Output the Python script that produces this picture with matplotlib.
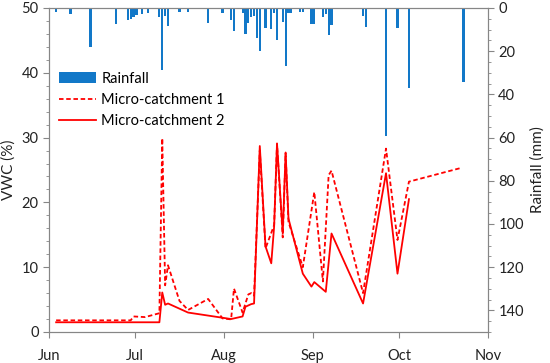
import matplotlib
matplotlib.use("Agg")
import matplotlib.pyplot as plt
import matplotlib.dates as mdates
from matplotlib.ticker import MultipleLocator
import pandas as pd

plt.rcParams['font.family'] = ['Lato', 'DejaVu Sans']
plt.rcParams['font.size'] = 10.5

# daily rainfall (mm)
rain_dates = ['06-03', '06-08', '06-15', '06-24', '06-28', '06-29', '06-30', '07-01',
              '07-03', '07-05', '07-09', '07-10', '07-11', '07-12', '07-16', '07-19',
              '07-26', '07-31', '08-03', '08-04', '08-07', '08-08', '08-09', '08-10',
              '08-11', '08-12', '08-13', '08-15', '08-17', '08-18', '08-19', '08-21',
              '08-22', '08-23', '08-24', '08-27', '08-28', '08-31', '09-01', '09-04',
              '09-05', '09-06', '09-07', '09-18', '09-19', '09-26', '09-30', '10-04',
              '10-23']
rain_mm = [1.7, 3.0, 18.0, 7.5, 5.5, 5.0, 4.4, 3.2,
           2.8, 2.5, 4.0, 28.7, 3.7, 8.3, 1.7, 2.0,
           6.8, 2.1, 5.5, 10.5, 2.1, 12.0, 6.8, 4.3,
           3.5, 14.0, 19.7, 9.4, 9.9, 2.1, 14.8, 6.3,
           26.9, 2.1, 2.1, 1.7, 1.7, 7.4, 7.4, 4.3,
           2.8, 12.5, 7.9, 3.7, 9.0, 59.3, 9.4, 36.9,
           34.3]

# VWC micro-catchment 1 (dashed)
mc1_dates = ['06-03', '06-29', '06-30', '07-04', '07-09', '07-10', '07-11', '07-12',
             '07-16', '07-19', '07-26', '07-31', '08-03', '08-04', '08-07', '08-09',
             '08-10', '08-11', '08-13', '08-15', '08-18', '08-19', '08-21', '08-22',
             '08-23', '08-28', '09-01', '09-04', '09-06', '09-07', '09-18', '09-26',
             '09-30', '10-04', '10-22']
mc1_vwc = [1.8, 1.8, 2.4, 2.3, 2.9, 29.9, 7.2, 10.3,
           4.8, 3.4, 5.1, 2.1, 1.95, 6.7, 3.0, 5.8,
           6.0, 5.6, 28.0, 12.9, 16.5, 29.0, 14.6, 27.6,
           17.0, 10.0, 21.6, 7.8, 24.2, 24.9, 6.0, 28.3,
           14.2, 23.2, 25.3]

# VWC micro-catchment 2 (solid)
mc2_dates = ['06-03', '07-09', '07-10', '07-11', '07-12', '07-19', '08-03', '08-07',
             '08-08', '08-10', '08-11', '08-13', '08-15', '08-17', '08-18', '08-19',
             '08-21', '08-22', '08-23', '08-28', '08-31', '09-01', '09-05', '09-07',
             '09-18', '09-26', '09-30', '10-04']
mc2_vwc = [1.5, 1.5, 6.1, 4.2, 4.4, 3.0, 2.0, 2.4,
           3.9, 4.3, 4.4, 28.7, 13.2, 10.6, 16.3, 29.1,
           15.2, 27.7, 17.5, 9.0, 7.0, 7.7, 6.2, 15.2,
           4.4, 24.5, 9.0, 20.5]


def to_time(days):
    # daily values drawn at midday
    return pd.to_datetime(['2016-' + d for d in days]) + pd.Timedelta(hours=12)


fig = plt.figure(figsize=(5.5, 3.63), dpi=100)
ax = fig.add_axes([0.089, 0.0854, 0.798, 0.8926])
ax2 = ax.twinx()
ax.set_zorder(2)
ax.patch.set_visible(False)

bars = ax2.bar(to_time(rain_dates), rain_mm, width=0.75, color='#1278c8',
               label='Rainfall')
l1, = ax.plot(to_time(mc1_dates), mc1_vwc, color='#ff0000', lw=1.3,
              ls=(0, (2.5, 1.5)), label='Micro-catchment 1')
l2, = ax.plot(to_time(mc2_dates), mc2_vwc, color='#ff0000', lw=1.3,
              label='Micro-catchment 2')

ax.set_xlim(pd.Timestamp('2016-06-01'), pd.Timestamp('2016-11-01'))
ax.set_ylim(0, 50)
ax2.set_ylim(150, 0)

ax.xaxis.set_major_locator(mdates.MonthLocator())
ax.xaxis.set_major_formatter(mdates.DateFormatter('%b'))
ax.yaxis.set_major_locator(MultipleLocator(10))
ax.yaxis.set_minor_locator(MultipleLocator(2))
ax2.yaxis.set_major_locator(MultipleLocator(20))
ax2.yaxis.set_minor_locator(MultipleLocator(5))
ax2.set_yticks(range(0, 141, 20))

gray = '#868686'
for a in (ax, ax2):
    for s in a.spines.values():
        s.set_color(gray)
    a.tick_params(which='both', direction='out', color=gray, labelcolor='#222222')
    a.tick_params(which='major', length=4)
    a.tick_params(which='minor', length=2.5)
ax.tick_params(axis='x', pad=8)

ax.set_ylabel('VWC (%)', color='#222222', fontsize=11)
ax2.set_ylabel('Rainfall (mm)', color='#222222', rotation=90, labelpad=5, fontsize=11)

ax.legend([bars, l1, l2], ['Rainfall', 'Micro-catchment 1', 'Micro-catchment 2'],
          loc='upper left', bbox_to_anchor=(0.0, 0.835), frameon=False,
          handlelength=2.5, handleheight=0.7, labelspacing=0.5,
          handletextpad=0.4, borderaxespad=0.3)

fig.savefig('out.png', dpi=100)
